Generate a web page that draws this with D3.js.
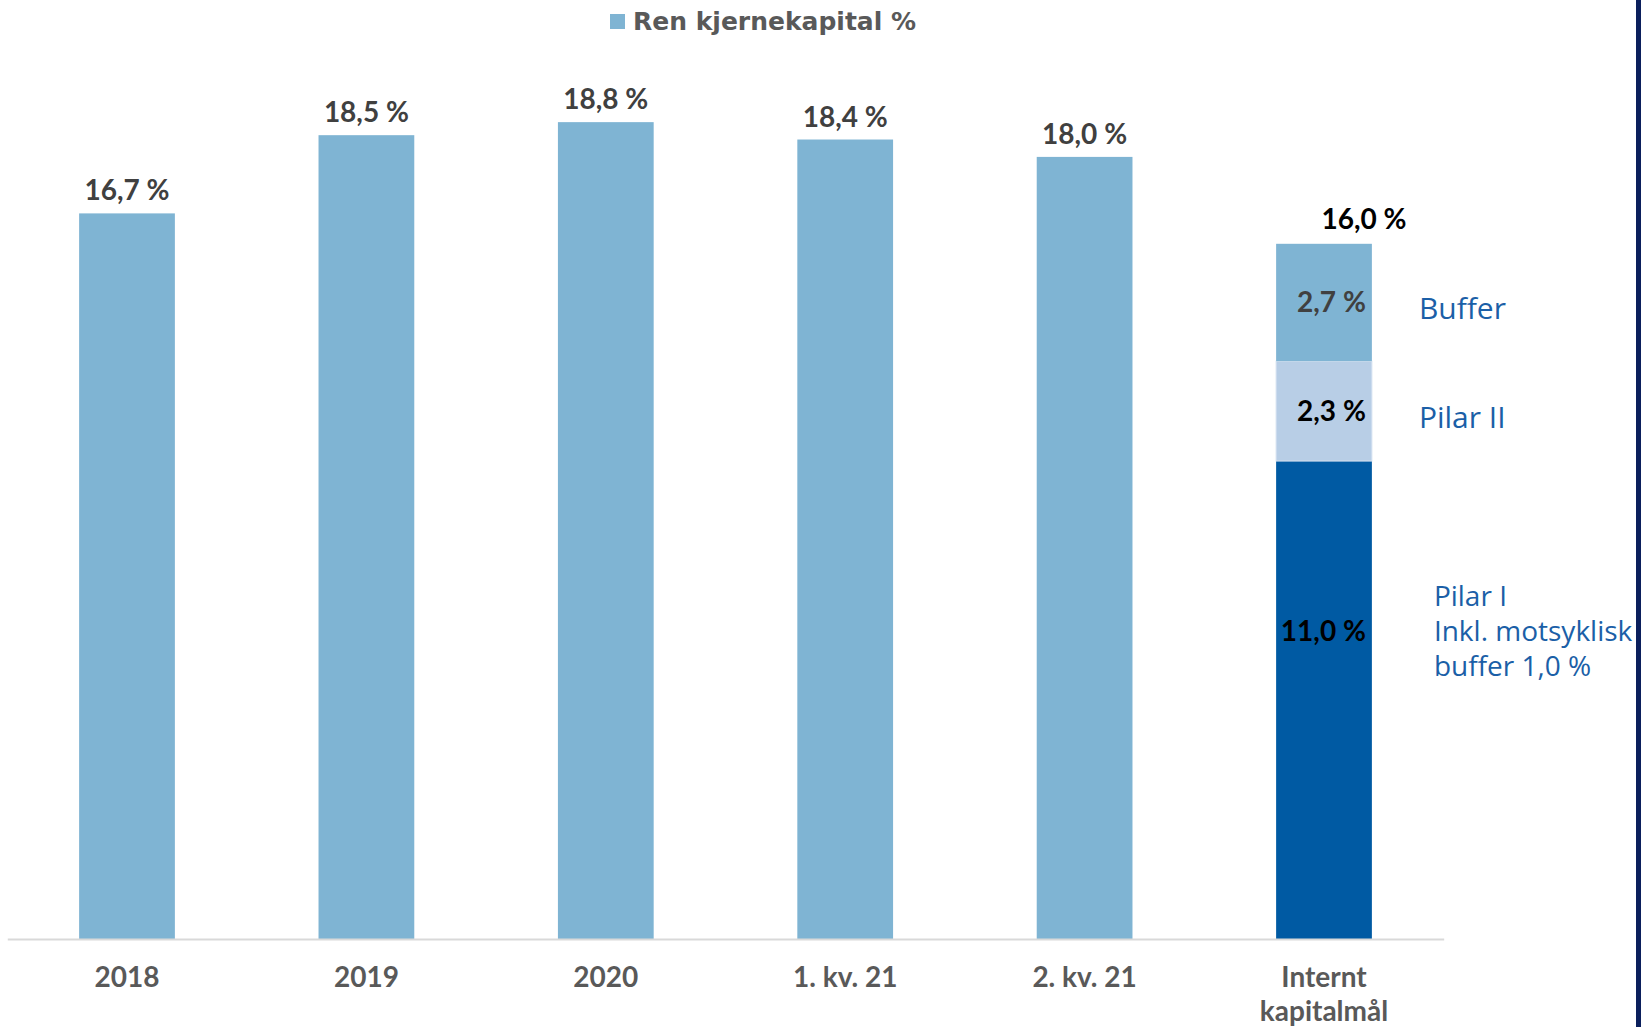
<!DOCTYPE html>
<html lang="no">
<head>
<meta charset="utf-8">
<script src="https://cdn.jsdelivr.net/npm/d3@7"></script>
<style>
  html, body { margin: 0; padding: 0; background: #ffffff; }
  svg { display: block; }
  .bold { font-family: Lato, "Open Sans", sans-serif; font-weight: 700; }
  .legend { font-family: "DejaVu Sans", Lato, sans-serif; font-weight: 700; }
  .note { font-family: "Open Sans", Lato, sans-serif; font-weight: 400; }
</style>
</head>
<body>
<svg id="chart" width="1641" height="1027"></svg>
<script>
// Categories along the x axis
const categories = ["2018", "2019", "2020", "1. kv. 21", "2. kv. 21", "Internt kapitalmål"];
// Ren kjernekapital (CET1) ratio, per period, in percent
const cet1Values = [16.7, 18.5, 18.8, 18.4, 18.0];
// Internal capital target, stacked from the bottom
const targetParts = ["Pilar I", "Pilar II", "Buffer"];
const targetValues = [11.0, 2.3, 2.7];
const targetNotes = [["Pilar I", "Inkl. motsyklisk", "buffer 1,0 %"], ["Pilar II"], ["Buffer"]];
const legendLabel = "Ren kjernekapital %";

const W = 1641, H = 1027;
const baseY = 939;
const svg = d3.select("#chart");

const colors = {
  cet1: "#7fb4d3",
  parts: ["#005aa3", "#b8cee6", "#7fb4d3"],
  partLabel: ["#000000", "#000000", "#404040"],
  value: "#404040",
  axisText: "#595959",
  axisLine: "#d9d9d9",
  note: "#1b5fa7"
};

const x = d3.scaleBand()
  .domain(categories)
  .range([7.3, 1443.7])
  .paddingInner(0.6)
  .paddingOuter(0.3);

const y = d3.scaleLinear().domain([0, 20]).range([baseY, 70]);

const pct = v => d3.format(".1f")(v).replace(".", ",") + " %";

// Right edge frame strip
svg.append("rect").attr("x", 1636).attr("y", 0).attr("width", 5).attr("height", H).attr("fill", "#0b1f5c");

// Legend
const legend = svg.append("g").attr("transform", "translate(610,14)");
legend.append("rect").attr("width", 15).attr("height", 15).attr("fill", colors.cet1);
legend.append("text").attr("class", "legend").attr("x", 23).attr("y", 16)
  .attr("font-size", 25).attr("fill", colors.axisText).text(legendLabel);

// CET1 bars
const periods = categories.slice(0, cet1Values.length);
svg.append("g").selectAll("rect")
  .data(periods)
  .join("rect")
  .attr("x", d => x(d))
  .attr("width", x.bandwidth())
  .attr("y", (d, i) => y(cet1Values[i]))
  .attr("height", (d, i) => baseY - y(cet1Values[i]))
  .attr("fill", colors.cet1);

svg.append("g").selectAll("text")
  .data(periods)
  .join("text")
  .attr("class", "bold")
  .attr("x", d => x(d) + x.bandwidth() / 2)
  .attr("y", (d, i) => y(cet1Values[i]) - 13)
  .attr("text-anchor", "middle")
  .attr("font-size", 28)
  .attr("fill", colors.value)
  .text((d, i) => pct(cet1Values[i]));

// Stacked internal target
const targetCat = categories[categories.length - 1];
const stackRow = {};
targetParts.forEach((p, i) => { stackRow[p] = targetValues[i]; });
const series = d3.stack().keys(targetParts)([stackRow]);
const tx0 = x(targetCat), tx1 = tx0 + x.bandwidth();

const seg = svg.append("g").selectAll("g").data(series).join("g");
seg.append("rect")
  .attr("x", tx0)
  .attr("width", x.bandwidth())
  .attr("y", d => y(d[0][1]))
  .attr("height", d => y(d[0][0]) - y(d[0][1]))
  .attr("fill", (d, i) => colors.parts[i])
  .attr("stroke", (d, i) => i === 1 ? "#d3e1f0" : "none")
  .attr("stroke-width", 1);

const segLabelY = d => {
  const top = y(d[0][1]), bot = y(d[0][0]);
  return (bot - top) > 200 ? top + 180 : (top + bot) / 2 + 10;
};

seg.append("text")
  .attr("class", "bold")
  .attr("x", tx1 - 6)
  .attr("y", segLabelY)
  .attr("text-anchor", "end")
  .attr("font-size", 28)
  .attr("fill", (d, i) => colors.partLabel[i])
  .text((d, i) => pct(targetValues[i]));

// Notes to the right of the stacked bar
seg.append("text")
  .attr("class", "note")
  .attr("font-size", (d, i) => targetNotes[i].length > 1 ? 28 : 30)
  .attr("fill", colors.note)
  .each(function (d, i) {
    const lines = targetNotes[i];
    const t = d3.select(this);
    const nx = tx1 + (lines.length > 1 ? 62 : 47);
    const mid = segLabelY(d) + (lines.length > 1 ? 0 : 7);
    lines.forEach((ln, k) => {
      t.append("tspan").attr("x", nx)
        .attr("y", mid + (k - (lines.length - 1) / 2) * 35)
        .text(ln);
    });
  });

// Total on top of the stacked bar
const total = d3.sum(targetValues);
svg.append("text")
  .attr("class", "bold")
  .attr("x", tx0 + x.bandwidth() / 2 + 40)
  .attr("y", y(total) - 15)
  .attr("text-anchor", "middle")
  .attr("font-size", 28)
  .attr("fill", "#000000")
  .text(pct(total));

// X axis
const axis = svg.append("g")
  .attr("transform", `translate(0,${baseY})`)
  .call(d3.axisBottom(x).tickSize(0).tickSizeOuter(0));
axis.select(".domain").attr("stroke", colors.axisLine).attr("stroke-width", 2);
axis.selectAll(".tick text").remove();
axis.selectAll(".tick").append("text")
  .attr("class", "bold")
  .attr("text-anchor", "middle")
  .attr("font-size", 28)
  .attr("fill", colors.axisText)
  .each(function (d) {
    const words = d === targetCat ? ["Internt", "kapitalmål"] : [d];
    const t = d3.select(this);
    words.forEach((w, k) => t.append("tspan").attr("x", 0).attr("y", 48 + k * 34).text(w));
  });
</script>
</body>
</html>
